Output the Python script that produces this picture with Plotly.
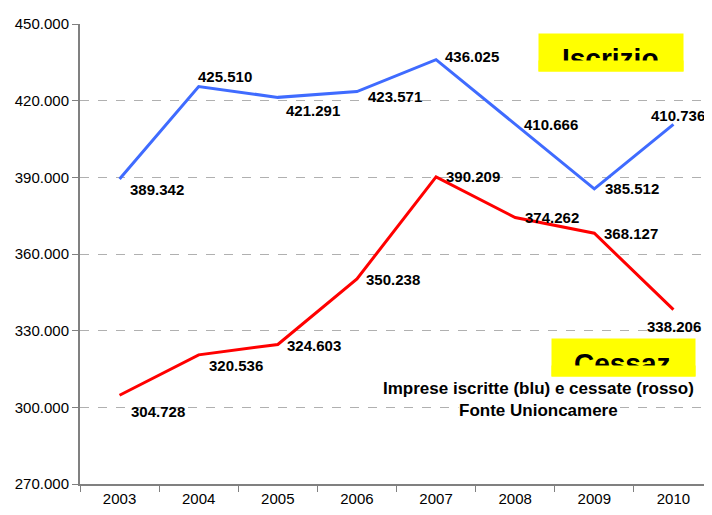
import plotly.graph_objects as go

# ----------------------------
# Data
# ----------------------------

years = ["2003", "2004", "2005", "2006", "2007", "2008", "2009", "2010"]

iscritte = [389342, 425510, 421291, 423571, 436025, 410666, 385512, 410736]

cessate = [304728, 320536, 324603, 350238, 390209, 374262, 368127, 338206]

y_ticks = [270000, 300000, 330000, 360000, 390000, 420000, 450000]


def fmt(v):
    return f"{v:,}".replace(",", ".")


# label offsets (pixels) for the value labels
blue_shift = [(37, -10), (26, 10), (35, -13), (38, -5), (36, 3), (36, 0), (38, 0), (5, 9)]
red_shift = [(38, -16), (37, -11), (36, -1), (36, -1), (37, 0), (37, 0), (37, 0), (1, -17)]

fig = go.Figure()

fig.add_trace(
    go.Scatter(
        x=years,
        y=iscritte,
        mode="lines",
        line=dict(color="#3F6BFF", width=3),
        name="Iscritte",
    )
)

fig.add_trace(
    go.Scatter(
        x=years,
        y=cessate,
        mode="lines",
        line=dict(color="#FF0000", width=3),
        name="Cessate",
    )
)

label_font = dict(family="Liberation Sans, Arial", size=15, color="black")

for series, shifts in ((iscritte, blue_shift), (cessate, red_shift)):
    for i, (v, (dx, dy)) in enumerate(zip(series, shifts)):
        fig.add_annotation(
            x=i, y=v, text=f"<b>{fmt(v)}</b>", showarrow=False,
            xshift=dx, yshift=dy, font=label_font,
        )

# ----------------------------
# Yellow boxes with clipped titles
# (positions in screen pixels of the 712x515 picture)
# ----------------------------

def py(p):
    return (484 - p) / 464


def px(p):
    return (p - 80) / 633


def clipped_box(x0, x1, y0, y1, cut, text):
    # yellow background
    fig.add_annotation(
        xref="paper", yref="paper", x=px(x0), y=py(y0), xanchor="left", yanchor="top",
        text=" ", width=x1 - x0, height=y1 - y0,
        bgcolor="#FFFF00", showarrow=False, borderpad=0,
    )
    # big title
    fig.add_annotation(
        xref="paper", yref="paper", x=px((x0 + x1) / 2), y=py(y0 + 8), xanchor="center", yanchor="top",
        text=f"<b>{text}</b>", showarrow=False,
        font=dict(family="Liberation Sans, Arial", size=28, color="black"),
    )
    # cover the bottom part of the title
    fig.add_annotation(
        xref="paper", yref="paper", x=px(x0), y=py(cut), xanchor="left", yanchor="top",
        text=" ", width=x1 - x0, height=y1 - cut,
        bgcolor="#FFFF00", showarrow=False, borderpad=0,
    )


clipped_box(538, 682, 29, 66, 56, "Iscrizio")
clipped_box(551, 694, 337, 374, 364, "Cessaz")

note_font = dict(family="Liberation Sans, Arial", size=17, color="black")

fig.add_annotation(
    xref="paper", yref="paper", x=px(538), y=py(388), xanchor="center", yanchor="middle",
    text="<b>Imprese iscritte (blu) e cessate (rosso)</b>",
    showarrow=False, font=note_font, bgcolor="white", borderpad=0,
)
fig.add_annotation(
    xref="paper", yref="paper", x=px(538), y=py(410), xanchor="center", yanchor="middle",
    text="<b>Fonte Unioncamere</b>",
    showarrow=False, font=note_font, bgcolor="white", borderpad=0,
)

# ----------------------------
# Layout
# ----------------------------

fig.update_layout(
    width=712,
    height=515,
    margin=dict(l=72, r=7, t=12, b=39),
    paper_bgcolor="white",
    plot_bgcolor="white",
    showlegend=False,
    separators=",.",
    font=dict(family="Liberation Sans, Arial", size=15, color="black"),
    xaxis=dict(
        type="category",
        range=[-0.5, 7.5],
        tickson="boundaries",
        ticks="outside",
        ticklen=6,
        tickcolor="#808080",
        showline=True,
        linecolor="#808080",
        linewidth=2,
        showgrid=False,
        tickangle=0,
        tickfont=dict(size=15),
    ),
    yaxis=dict(
        range=[270000, 450000],
        tickvals=y_ticks,
        tickformat=",d",
        ticks="outside",
        ticklen=6,
        tickcolor="#808080",
        showline=True,
        linecolor="#808080",
        linewidth=2,
        showgrid=True,
        gridcolor="#B0B0B0",
        griddash="dash",
        zeroline=False,
        tickfont=dict(size=15),
    ),
)

fig.write_html("out.html")
